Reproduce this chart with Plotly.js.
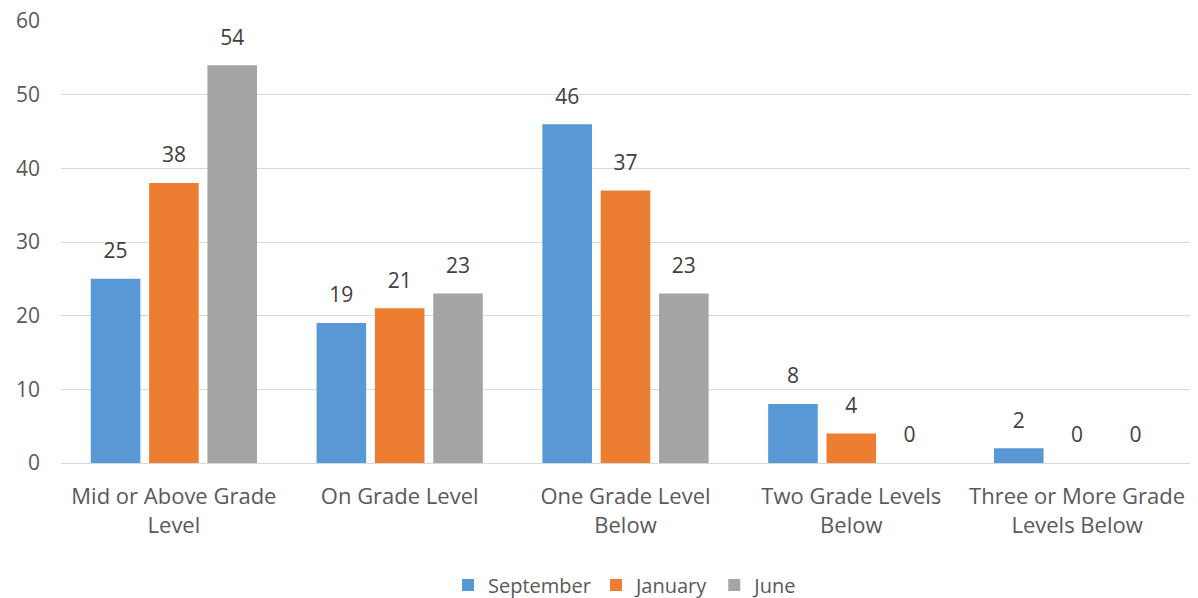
<!DOCTYPE html>
<html>
<head>
<meta charset="utf-8">
<script src="https://cdn.plot.ly/plotly-3.0.1.min.js"></script>
<style>html,body{margin:0;padding:0;background:#fff;}#chart{width:1198px;height:598px;}</style>
</head>
<body>
<div id="chart"></div>
<script>
const categories = ["Mid or Above Grade<br>Level", "On Grade Level", "One Grade Level<br>Below", "Two Grade Levels<br>Below", "Three or More Grade<br>Levels Below"];
const september = [25, 19, 46, 8, 2];
const january = [38, 21, 37, 4, 0];
const june = [54, 23, 23, 0, 0];
const seriesNames = ["September", "January", "June"];
const colors = ["#5898D5", "#ED7D31", "#A5A5A5"];
const values = [september, january, june];

const fam = "Open Sans, Noto Sans, sans-serif";
const bars = values.map((v, i) => ({
  type: "bar",
  name: seriesNames[i],
  x: categories,
  y: v,
  marker: {color: colors[i]},
  hoverinfo: "skip"
}));
const labels = values.map((v, i) => ({
  type: "scatter",
  mode: "markers+text",
  name: seriesNames[i] + " labels",
  x: categories,
  y: v,
  text: v.map(String),
  textposition: "top center",
  marker: {size: 23, color: "rgba(0,0,0,0)"},
  cliponaxis: false,
  showlegend: false,
  textfont: {family: fam, color: "#404040", size: 21},
  hoverinfo: "skip"
}));

const layout = {
  width: 1198, height: 598,
  margin: {l: 61, r: 8, t: 21, b: 135, autoexpand: false},
  paper_bgcolor: "#fff", plot_bgcolor: "#fff",
  barmode: "group",
  bargap: 0.225,
  bargroupgap: 0.15,
  scattermode: "group",
  scattergap: 0.225,
  font: {family: fam, color: "#595959", size: 20},
  showlegend: true,
  legend: {orientation: "h", x: 0.5, xanchor: "center", y: -0.276, yanchor: "middle", font: {family: fam, size: 20, color: "#595959"}, traceorder: "normal"},
  xaxis: {showgrid: false, showline: false, ticks: "", ticklabelstandoff: 18, tickfont: {family: fam, size: 22, color: "#595959"}, automargin: false},
  yaxis: {range: [0, 60], dtick: 10, showgrid: true, gridcolor: "#D9D9D9", gridwidth: 1, zeroline: true, zerolinecolor: "#D9D9D9", showline: false, ticks: "", ticklabelstandoff: 20, tickfont: {family: fam, size: 21, color: "#595959"}, automargin: false}
};
Plotly.newPlot("chart", bars.concat(labels), layout, {displayModeBar: false, staticPlot: true});
</script>
</body>
</html>
